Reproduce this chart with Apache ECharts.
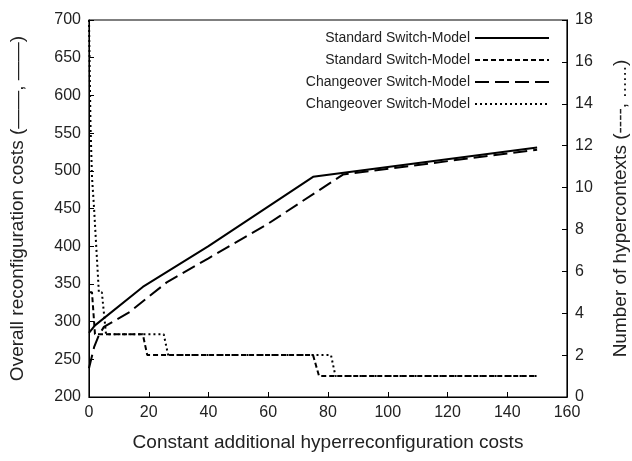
<!DOCTYPE html>
<html>
<head>
<meta charset="utf-8">
<script src="https://cdn.jsdelivr.net/npm/echarts@6/dist/echarts.min.js"></script>
<style>
  html, body { margin: 0; padding: 0; background: #fff; }
  #chart { width: 632px; height: 461px; }
</style>
</head>
<body>
<div id="chart"></div>
<script>
// 数据
var names = ['Standard Switch-Model', 'Standard Switch-Model ', 'Changeover Switch-Model', 'Changeover Switch-Model '];

// 总重配置成本 (左轴)
var stdCostX = [0, 2, 18, 40, 75, 150];
var stdCostY = [285, 295, 346, 400, 492, 531];
var chgCostX = [0, 1.7, 3.3, 5, 13.7, 26, 40, 60, 85, 150];
var chgCostY = [238, 266, 282, 293, 313, 352, 384, 430, 495, 528];

// 超上下文数目 (右轴)
var stdCtxX = [0, 1, 2, 18, 19.5, 75, 77, 150];
var stdCtxY = [5, 5, 3, 3, 2, 2, 1, 1];
var chgCtxX = [0, 0.5, 1, 1.7, 3.3, 4.3, 5.7, 25, 26.5, 81, 82.5, 150];
var chgCtxY = [18, 13, 10.5, 9, 5, 5, 3, 3, 2, 2, 1, 1];

function zip(xs, ys) {
    return xs.map(function (x, i) { return [x, ys[i]]; });
}

var font = 'Liberation Sans, Arial, sans-serif';
var myChart = echarts.init(document.getElementById('chart'));

var option = {
    animation: false,
    backgroundColor: '#fff',
    textStyle: { fontFamily: font },
    grid: {
        left: 89, right: 65, top: 20, bottom: 64,
        outerBoundsMode: 'none', containLabel: false,
        show: true, borderColor: '#000', borderWidth: 1.2
    },
    legend: {
        orient: 'vertical',
        right: 77, top: 26,
        align: 'right',
        itemWidth: 74, itemHeight: 12, itemGap: 8,
        itemStyle: { opacity: 0 },
        textStyle: { fontSize: 14, color: '#222', fontFamily: font },
        data: names,
        formatter: function (n) { return n.trim(); }
    },
    xAxis: {
        type: 'value', min: 0, max: 160, interval: 20,
        name: 'Constant additional hyperreconfiguration costs',
        nameLocation: 'middle', nameGap: 36,
        nameTextStyle: { fontSize: 19, color: '#222' },
        axisLine: { lineStyle: { color: '#000' } },
        axisTick: { inside: true, length: 5, lineStyle: { color: '#000' } },
        axisLabel: { fontSize: 16, color: '#222', margin: 8 },
        splitLine: { show: false }
    },
    yAxis: [{
        type: 'value', min: 200, max: 700, interval: 50,
        name: 'Overall reconfiguration costs (\u2014\u2014, \u2014\u2014)',
        nameLocation: 'middle', nameGap: 62, nameRotate: 90,
        nameTextStyle: { fontSize: 19, color: '#222' },
        axisLine: { show: true, lineStyle: { color: '#000' } },
        axisTick: { inside: true, length: 5, lineStyle: { color: '#000' } },
        axisLabel: { fontSize: 16, color: '#222', margin: 8 },
        splitLine: { show: false }
    }, {
        type: 'value', min: 0, max: 18, interval: 2,
        name: 'Number of hypercontexts (----, ......)',
        nameLocation: 'middle', nameGap: 44, nameRotate: 90,
        nameTextStyle: { fontSize: 19, color: '#222' },
        axisLine: { show: true, lineStyle: { color: '#000' } },
        axisTick: { inside: true, length: 5, lineStyle: { color: '#000' } },
        axisLabel: { fontSize: 16, color: '#222', margin: 8 },
        splitLine: { show: false }
    }],
    series: [{
        name: names[0],
        type: 'line', yAxisIndex: 0, symbol: 'none',
        lineStyle: { color: '#000', width: 2, type: 'solid' },
        itemStyle: { color: '#000' },
        data: zip(stdCostX, stdCostY)
    }, {
        name: names[1],
        type: 'line', yAxisIndex: 1, symbol: 'none',
        lineStyle: { color: '#000', width: 2, type: [5, 3] },
        itemStyle: { color: '#000' },
        data: zip(stdCtxX, stdCtxY)
    }, {
        name: names[2],
        type: 'line', yAxisIndex: 0, symbol: 'none',
        lineStyle: { color: '#000', width: 2, type: [14, 6] },
        itemStyle: { color: '#000' },
        data: zip(chgCostX, chgCostY)
    }, {
        name: names[3],
        type: 'line', yAxisIndex: 1, symbol: 'none',
        lineStyle: { color: '#000', width: 2, type: [2, 3] },
        itemStyle: { color: '#000' },
        data: zip(chgCtxX, chgCtxY)
    }]
};

myChart.setOption(option);
</script>
</body>
</html>
